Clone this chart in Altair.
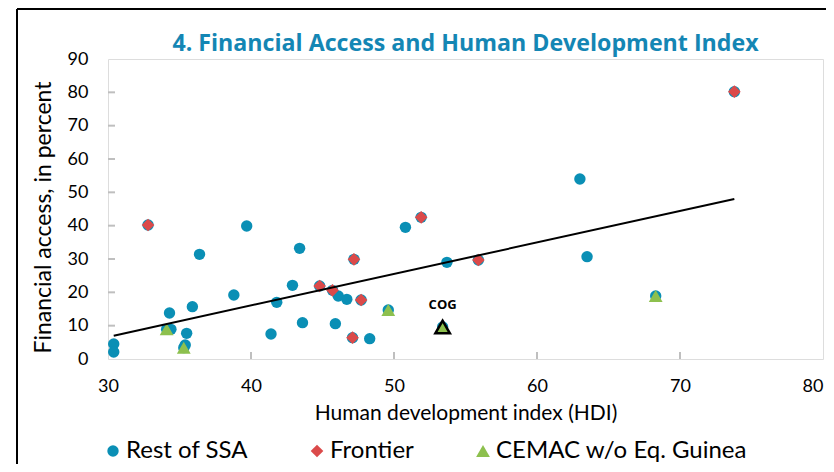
import altair as alt
import pandas as pd

# ---- data ----
rest_x = [30.4, 30.4, 39.7, 36.4, 43.4, 38.8, 42.9, 41.8, 34.3, 35.9, 34.4, 35.5,
          35.4, 41.4, 43.6, 45.9, 46.1, 46.7, 48.3, 50.8, 53.7, 63.0, 63.5]
rest_y = [4.5, 2.1, 39.9, 31.4, 33.2, 19.2, 22.1, 17.0, 13.8, 15.7, 8.9, 7.7,
          4.2, 7.5, 10.9, 10.6, 18.9, 17.9, 6.1, 39.5, 29.0, 54.0, 30.7]

frontier_x = [32.8, 51.9, 47.2, 44.8, 45.7, 47.7, 47.1, 55.9, 73.8]
frontier_y = [40.2, 42.5, 29.9, 21.9, 20.6, 17.7, 6.4, 29.7, 80.2]

cemac_x = [34.1, 35.3, 49.6, 68.3]
cemac_y = [8.9, 3.4, 14.7, 18.9]

cog_x = [53.4]
cog_y = [9.6]
cog_label = ["COG"]

trend_x = [30.4, 73.8]
trend_y = [7.0, 48.0]

x_tick_labels = [30, 40, 50, 60, 70, 80]
y_tick_labels = [0, 10, 20, 30, 40, 50, 60, 70, 80, 90]
x_ticks = [40, 50, 60, 70]
y_ticks = [10, 20, 30, 40, 50, 60, 70, 80]

groups = ["Rest of SSA", "Frontier", "CEMAC w/o Eq. Guinea"]
colors = ["#0a8fb5", "#db4a4a", "#8dc04e"]
shapes = ["circle", "diamond", "triangle-up"]

# ---- tables ----
pts = pd.concat([
    pd.DataFrame({"x": rest_x, "y": rest_y, "g": groups[0]}),
    pd.DataFrame({"x": frontier_x, "y": frontier_y, "g": groups[1]}),
    pd.DataFrame({"x": cemac_x, "y": cemac_y, "g": groups[2]}),
], ignore_index=True)
under = pd.DataFrame({"x": frontier_x + cemac_x + cog_x,
                      "y": frontier_y + cemac_y + cog_y})
cog = pd.DataFrame({"x": cog_x, "y": cog_y, "label": cog_label})
trend = pd.DataFrame({"x": trend_x, "y": trend_y})
xt = pd.DataFrame({"x": x_ticks})
yt = pd.DataFrame({"y": y_ticks})
one = pd.DataFrame({"a": [0]})

FONT = "Lato"
xscale = alt.Scale(domain=[30, 80], nice=False, zero=False)
yscale = alt.Scale(domain=[0, 90], nice=False, zero=False)

xaxis = alt.Axis(
    values=x_tick_labels, title="Human development index (HDI)",
    labelFontSize=18, labelFont=FONT, labelColor="#000000", labelPadding=18,
    labelOverlap=False, labelFlush=False,
    labelAlign=alt.condition("datum.value == 80", alt.value("right"), alt.value("center")),
    titleFontSize=21, titleFont=FONT, titleFontWeight="normal", titleColor="#000000",
    titlePadding=7, ticks=False, domain=False, grid=False)
yaxis = alt.Axis(
    values=y_tick_labels, title="Financial access, in percent",
    labelFontSize=18, labelFont=FONT, labelColor="#000000", labelPadding=20,
    labelOverlap=False, labelFlush=False,
    titleFontSize=23, titleFont=FONT, titleFontWeight="normal", titleColor="#000000",
    titlePadding=12, titleY=158, ticks=False, domain=False, grid=False)

X = alt.X("x:Q", scale=xscale, axis=xaxis)
Y = alt.Y("y:Q", scale=yscale, axis=yaxis)

under_layer = alt.Chart(under).mark_point(filled=True, opacity=1, shape="circle", size=130,
                                          color=colors[0]).encode(x=X, y=Y)

main = alt.Chart(pts).mark_point(filled=True, opacity=1).encode(
    x=X, y=Y,
    color=alt.Color("g:N", scale=alt.Scale(domain=groups, range=colors),
                    legend=alt.Legend(title=None, orient="none", direction="horizontal",
                                      legendX=-7, legendY=380, labelFontSize=24,
                                      labelFont=FONT, labelColor="#000000", labelLimit=0,
                                      symbolSize=100, columnPadding=57, labelOffset=1,
                                      symbolStrokeWidth=0)),
    shape=alt.Shape("g:N", scale=alt.Scale(domain=groups, range=shapes), legend=None),
    size=alt.Size("g:N", scale=alt.Scale(domain=groups, range=[130, 190, 190]), legend=None),
)

cog_pt = alt.Chart(cog).mark_point(filled=True, opacity=1, shape="triangle-up", size=210,
                                   fill=colors[2], stroke="#000000", strokeWidth=2.5).encode(
    x=X, y=Y)
cog_txt = alt.Chart(cog).mark_text(font="Open Sans", fontWeight="bold", fontSize=13,
                                   color="#000000", dy=-22).encode(
    x=X, y=Y, text="label:N")

trend_line = alt.Chart(trend).mark_line(color="#000000", strokeWidth=2).encode(x=X, y=Y)

ytick_layer = alt.Chart(yt).mark_rule(color="#bfbfbf", strokeWidth=2).encode(
    y=Y, x=alt.value(0), x2=alt.value(7))
xtick_layer = alt.Chart(xt).mark_rule(color="#bfbfbf", strokeWidth=2).encode(
    x=X, y=alt.value(300), y2=alt.value(293))

frame_top = alt.Chart(one).mark_rule(color="#000000", strokeWidth=2).encode(
    x=alt.value(-91), x2=alt.value(740), y=alt.value(-50))
frame_left = alt.Chart(one).mark_rule(color="#000000", strokeWidth=2).encode(
    x=alt.value(-91), y=alt.value(-50), y2=alt.value(430))

chart = alt.layer(
    under_layer, frame_top, frame_left, ytick_layer, xtick_layer,
    main, cog_pt, cog_txt, trend_line
).properties(
    width=715, height=300,
    autosize=alt.AutoSizeParams(type="none"),
    padding={"left": 100, "top": 51, "right": 3, "bottom": 105},
    title=alt.Title("4. Financial Access and Human Development Index",
                    font="Open Sans", fontSize=23.2, fontWeight="bold", color="#1486b4",
                    anchor="middle", offset=-48),
).configure_view(stroke="#bfbfbf", strokeWidth=2).configure(background="#ffffff")

chart.save("out.html", embed_options={"renderer": "svg", "actions": False})
